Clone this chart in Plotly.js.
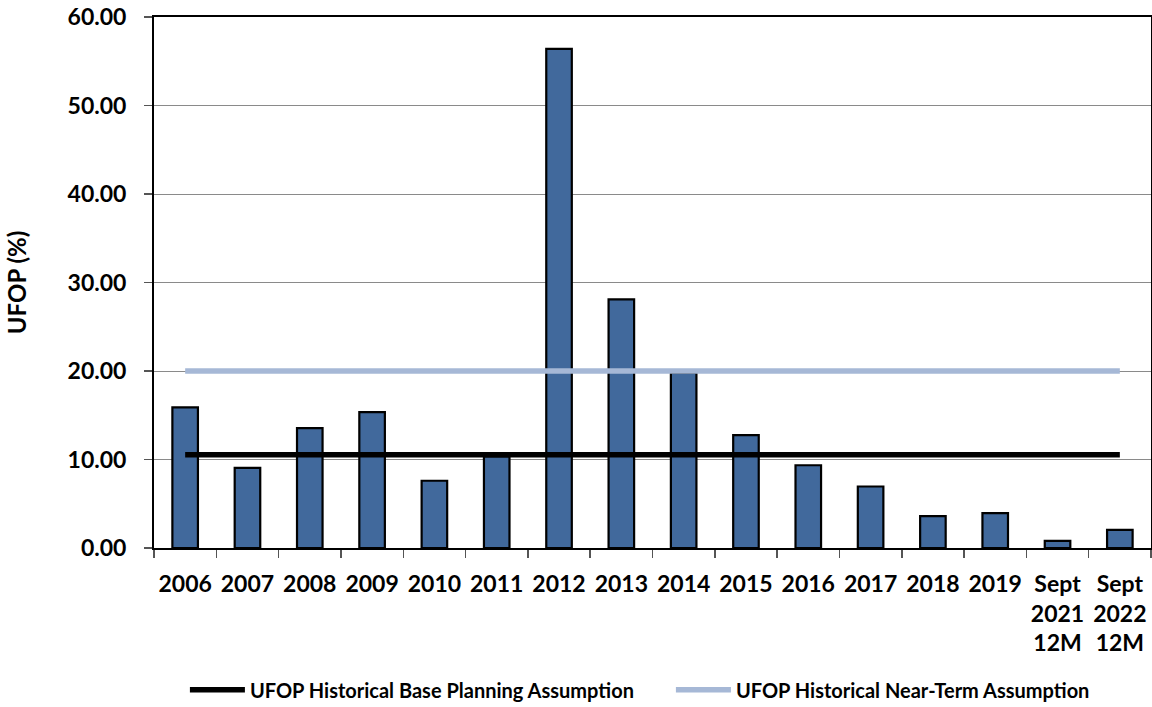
<!DOCTYPE html>
<html>
<head>
<meta charset="utf-8">
<script src="https://cdn.plot.ly/plotly-3.0.1.min.js"></script>
<style>html,body{margin:0;padding:0;background:#fff;}#chart{width:1152px;height:707px;}</style>
</head>
<body>
<div id="chart"></div>
<script>
const categories = ["2006","2007","2008","2009","2010","2011","2012","2013","2014","2015","2016","2017","2018","2019","Sept<br>2021<br>12M","Sept<br>2022<br>12M"];
const ufopValues = [15.9, 9.05, 13.55, 15.35, 7.6, 10.35, 56.4, 28.1, 19.8, 12.75, 9.35, 6.95, 3.6, 3.95, 0.8, 2.05];
const basePlanning = [10.55,10.55,10.55,10.55,10.55,10.55,10.55,10.55,10.55,10.55,10.55,10.55,10.55,10.55,10.55,10.55];
const nearTerm = [20,20,20,20,20,20,20,20,20,20,20,20,20,20,20,20];
const yTickVals = [0,10,20,30,40,50,60];

const FONT = "Lato, 'Open Sans', sans-serif";

const traces = [
  {
    type: "bar", x: categories, y: ufopValues, showlegend: false,
    marker: {color: "#41699C", line: {color: "#000000", width: 2.2}},
    width: 0.41, hoverinfo: "x+y"
  },
  {
    type: "scatter", mode: "lines", x: categories, y: basePlanning,
    name: "UFOP Historical Base Planning Assumption",
    line: {color: "#000000", width: 5.5}
  },
  {
    type: "scatter", mode: "lines", x: categories, y: nearTerm,
    name: "UFOP Historical Near-Term Assumption",
    line: {color: "#A6B8D6", width: 5.5}
  }
];

const layout = {
  width: 1152, height: 707,
  margin: {l: 154, r: 1, t: 17, b: 159, pad: 0, autoexpand: false},
  paper_bgcolor: "#ffffff", plot_bgcolor: "#ffffff",
  font: {family: FONT, color: "#000000"},
  showlegend: true,
  xaxis: {
    type: "category",
    showline: true, linecolor: "#000000", linewidth: 2, mirror: true,
    showgrid: false, zeroline: false,
    ticks: "outside", tickson: "boundaries", ticklen: 8, tickcolor: "#555555", tickwidth: 1.5,
    ticklabelstandoff: 14,
    tickfont: {family: FONT, size: 23, color: "#000000", weight: "bold"},
    tickangle: 0
  },
  yaxis: {
    range: [0, 60], tickvals: yTickVals, tickformat: ".2f",
    showline: true, linecolor: "#000000", linewidth: 2, mirror: true,
    showgrid: true, gridcolor: "#8a8a8a", gridwidth: 1,
    zeroline: false,
    ticks: "outside", ticklen: 8, tickcolor: "#555555", tickwidth: 1.5,
    ticklabelstandoff: 13,
    tickfont: {family: FONT, size: 23, color: "#000000", weight: "bold"},
    title: {text: "UFOP (%)", font: {family: FONT, size: 24, weight: "bold", color: "#000000"}, standoff: 34}
  },
  legend: {
    orientation: "h", x: 0.031, xanchor: "left", y: -0.267, yanchor: "middle",
    font: {family: FONT, size: 20, weight: "bold", color: "#000000"},
    itemwidth: 55, entrywidth: 416, entrywidthmode: "pixels",
    bgcolor: "rgba(0,0,0,0)"
  }
};

Plotly.newPlot("chart", traces, layout, {displayModeBar: false, staticPlot: true});
</script>
</body>
</html>
